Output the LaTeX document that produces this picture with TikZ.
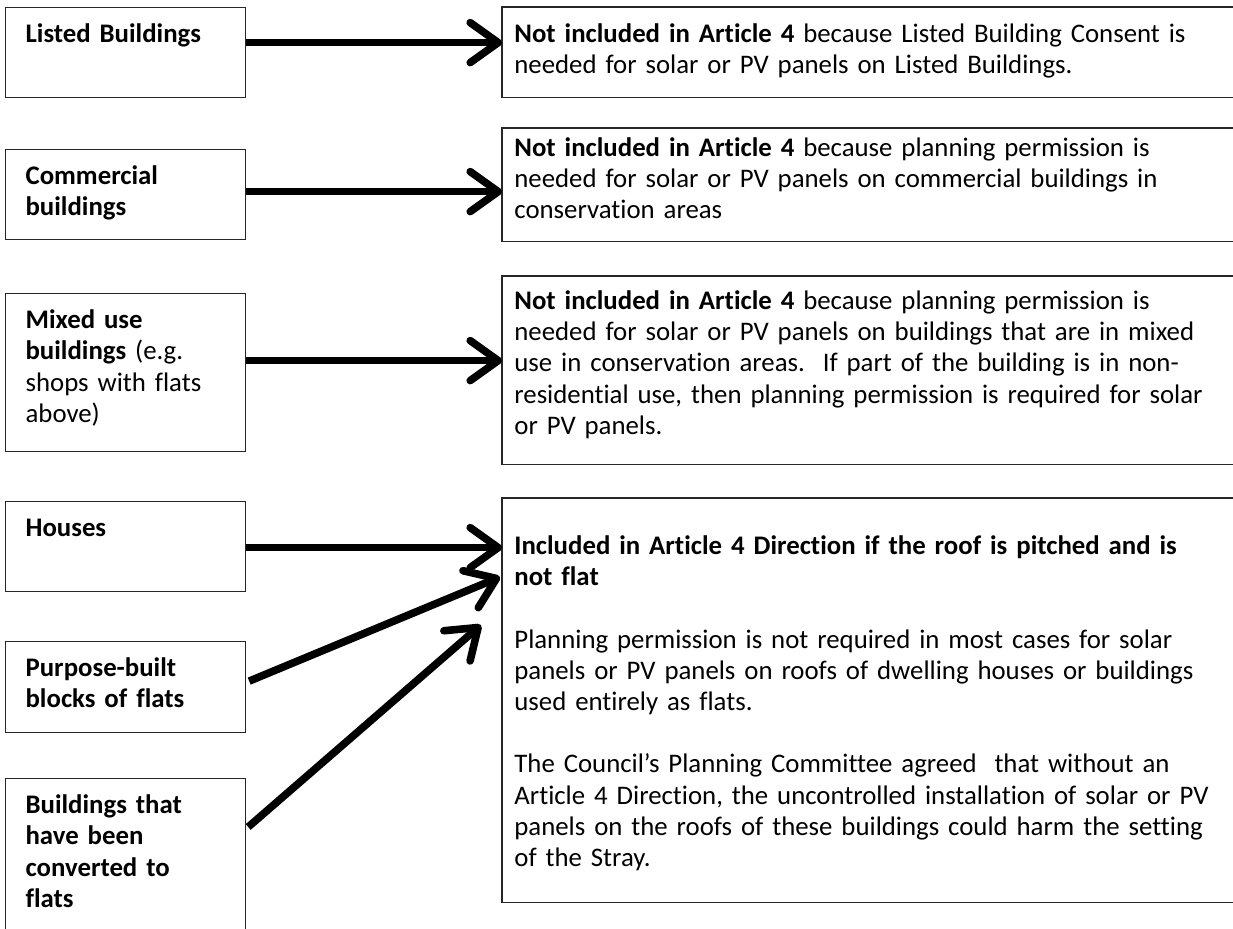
\documentclass[tikz,border=0pt]{standalone}
\usepackage{fontspec}
\setmainfont{Carlito}[Ligatures=NoCommon]
\usetikzlibrary{arrows.meta,calc}
\frenchspacing

\begin{document}
\begin{tikzpicture}[
  x=0.5pt, y=-0.5pt,
  font=\fontsize{13.4}{15.6}\selectfont,
  edge/.style={draw=black!85, line width=0.6pt},
  box/.style={anchor=north west, align=left, inner ysep=0pt},
  cat/.style={box, edge, font=\fontsize{13.4}{15.6}\selectfont\bfseries,
              inner xsep=10pt, text width=100pt, text height=17.5pt},
  res/.style={box, inner xsep=6pt, text width=368pt},
  ar/.style={line width=3.8pt, -{Straight Barb[length=14pt,width=20pt,round]}}]

\useasboundingbox (0,0) rectangle (1233,928);

% building types
\node[cat, text depth=27.5pt] (listed) at (5,7) {Listed Buildings};
\node[cat, text depth=27.5pt] (commercial) at (5,149) {Commercial\\buildings};
\node[cat, text depth=61.5pt] (mixed) at (5,293)
  {Mixed use\\buildings \mdseries(e.g.\\shops with flats\\above)};
\node[cat, text depth=27.5pt] (houses) at (5,501) {Houses};
\node[cat, text depth=28pt] (purpose) at (5,641) {Purpose-built\\blocks of flats};
\node[cat, text depth=73.5pt] (converted) at (5,778)
  {Buildings that\\have been\\converted to\\flats};

% outcomes (boxes run off the right edge)
\node[res, text height=17.5pt, text depth=27.5pt] (notlisted) at (502,7)
  {\textbf{Not included in Article 4} because Listed Building Consent is\\
   needed for solar or PV panels on Listed Buildings.};
\node[res, text height=14pt, text depth=42.5pt] (notcomm) at (502,128)
  {\textbf{Not included in Article 4} because planning permission is\\
   needed for solar or PV panels on commercial buildings in\\
   conservation areas};
\node[res, text height=16.5pt, text depth=77.5pt] (notmixed) at (502,276)
  {\textbf{Not included in Article 4} because planning permission is\\
   needed for solar or PV panels on buildings that are in mixed\\
   use in conservation areas.\ \ If part of the building is in non-\\
   residential use, then planning permission is required for solar\\
   or PV panels.};
\node[res, text height=28pt, text depth=174pt] (included) at (502,498)
  {\textbf{Included in Article 4 Direction if the roof is pitched and is}\\
   \textbf{not flat}\\[15.6pt]
   Planning permission is not required in most cases for solar\\
   panels or PV panels on roofs of dwelling houses or buildings\\
   used entirely as flats.\\[15.6pt]
   The Council’s Planning Committee agreed\ \ that without an\\
   Article 4 Direction, the uncontrolled installation of solar or PV\\
   panels on the roofs of these buildings could harm the setting\\
   of the Stray.};

\foreach \n in {notlisted,notcomm,notmixed,included}
  \draw[edge] (\n.north east) -- (\n.north west) -- (\n.south west) -- (\n.south east);

\draw[ar] ($(listed.east)+(0,-10)$) -- ($(listed.east -| notlisted.west)+(0,-10)$);
\draw[ar] ($(commercial.east)+(0,-3)$) -- ($(commercial.east -| notcomm.west)+(0,-3)$);
\draw[ar] ($(mixed.east)+(0,-12)$) -- ($(mixed.east -| notmixed.west)+(0,-12)$);
\draw[ar] ($(houses.east)+(0,1)$) -- ($(houses.east -| included.west)+(0,1)$);
\draw[ar] ($(purpose.east)+(3,-6)$) -- ($(included.north west)+(-2,79)$);
\draw[ar] ($(converted.north east)+(2,49)$) -- ($(included.north west)+(-21,127)$);
\end{tikzpicture}
\end{document}
